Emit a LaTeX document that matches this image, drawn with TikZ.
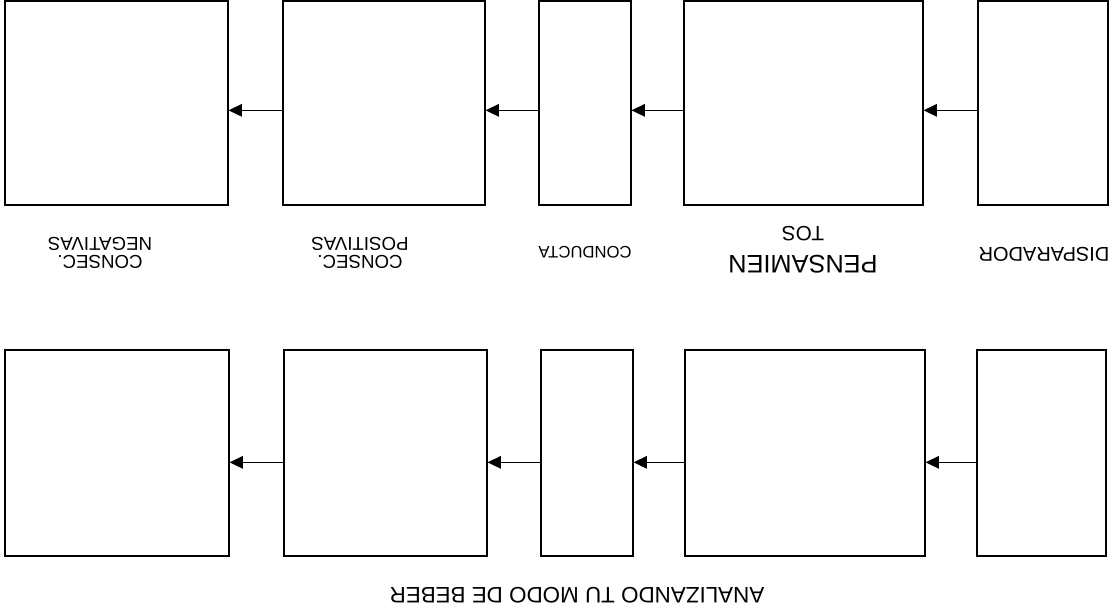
\documentclass[tikz,border=0pt]{standalone}
\usepackage{fontspec}
\setmainfont{Liberation Sans}
\usetikzlibrary{arrows.meta}

\begin{document}
\begin{tikzpicture}[x=0.75pt,y=-0.75pt,
    box/.style={draw,line width=0.9pt,inner sep=0pt},
    arr/.style={-{Triangle[length=10pt,width=9.5pt]},line width=0.6pt},
    lbl/.style={rotate=180,align=center,inner sep=0pt,font=\fontsize{14}{14}\selectfont}]

\useasboundingbox (0,0) rectangle (1120,613);

% upper row (top at y=1, bottom at y=205)
\foreach \n/\xa/\xb in {1/5/228,2/283/485,3/539/631,4/684/923,5/978/1108}{
    \node[box,minimum width={(\xb-\xa)*0.75pt},minimum height={204*0.75pt}]
        (t\n) at ({(\xa+\xb)/2},103) {};
}

% lower row (top at y=350, bottom at y=556)
\foreach \n/\xa/\xb in {1/5/229,2/284/487,3/541/633,4/685/925,5/977/1106}{
    \node[box,minimum width={(\xb-\xa)*0.75pt},minimum height={206*0.75pt}]
        (b\n) at ({(\xa+\xb)/2},453) {};
}

\foreach \a/\b in {2/1,3/2,4/3,5/4}{
    \draw[arr] ([yshift=-5.5pt]t\a.west) -- ([yshift=-5.5pt]t\b.east);
    \draw[arr] ([yshift=-7pt]b\a.west) -- ([yshift=-7pt]b\b.east);
}

% labels, printed upside down
\node[lbl] (neg) at (100,253) {CONSEC.\\NEGATIVAS};
\node[lbl] (pos) at (360,253) {CONSEC.\\POSITIVAS};
\node[lbl,font=\fontsize{12.5}{14}\selectfont] (cond) at (585,252) {CONDUCTA};
\node[lbl,font=\fontsize{19}{22}\selectfont] (pens) at (803,250)
    {PENSAMIEN\\{\fontsize{15.5}{22}\selectfont TOS}};
\node[lbl,font=\fontsize{15}{15}\selectfont] (disp) at (1044,254) {DISPARADOR};
\node[lbl,font=\fontsize{16.8}{18}\selectfont] (title) at (577,595) {ANALIZANDO TU MODO DE BEBER};

\end{tikzpicture}
\end{document}
